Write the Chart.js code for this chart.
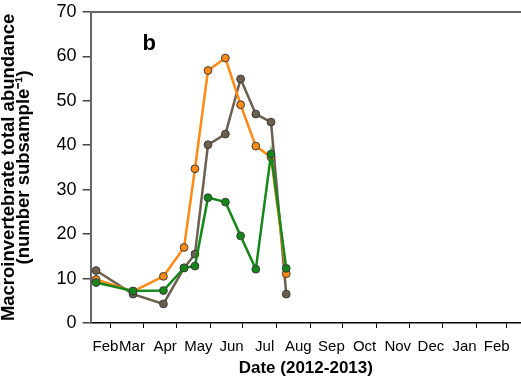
<!DOCTYPE html>
<html><head><meta charset="utf-8">
<script src="https://cdn.jsdelivr.net/npm/chart.js@4.4.0/dist/chart.umd.min.js"></script>
<style>html,body{margin:0;padding:0;background:#fff;overflow:hidden}</style>
</head><body><canvas id="c" width="521" height="387" style="display:block;width:521px;height:387px"></canvas>
<script>
// ---- data ----
const sampleDates = ['2012-02-17','2012-03-22','2012-04-19','2012-05-08','2012-05-18','2012-05-30','2012-06-15','2012-06-29','2012-07-13','2012-07-27','2012-08-10'];
const brownValues  = [11.8, 6.5, 4.3, 12.4, 15.5, 40.1, 42.5, 54.9, 47.0, 45.2, 6.5];
const orangeValues = [9.8, 7.1, 10.5, 17.0, 34.7, 56.8, 59.6, 49.1, 39.8, 37.3, 11.1];
const greenValues  = [9.1, 7.2, 7.3, 12.4, 12.8, 28.2, 27.2, 19.6, 12.1, 38.0, 12.3];
const monthLabels = ['Feb','Mar','Apr','May','Jun','Jul','Aug','Sep','Oct','Nov','Dec','Jan','Feb'];
const monthStarts = ['2012-03-01','2012-04-01','2012-05-01','2012-06-01','2012-07-01','2012-08-01','2012-09-01','2012-10-01','2012-11-01','2012-12-01','2013-01-01','2013-02-01','2013-03-01'];
const axisStart = '2012-02-12';
const axisEnd = '2013-03-14';
const yTicks = [0,10,20,30,40,50,60,70];
const yTitle = ['Macroinvertebrate total abundance', '(number subsample\u207B\u00B9)'];
const xTitle = 'Date (2012-2013)';
const panelLabel = 'b';

// ---- helpers ----
const day = s => { const [y,m,d] = s.split('-').map(Number); return Date.UTC(y, m-1, d) / 86400000; };
const xMin = day(axisStart), xMax = day(axisEnd);
const bounds = [axisStart].concat(monthStarts).map(day);
const mids = monthLabels.map((_, i) => (bounds[i] + bounds[i+1]) / 2);
const tickMarkSet = new Set(monthStarts.map(day));
const labelMap = new Map(mids.map((v, i) => [v, monthLabels[i]]));
const pts = vals => sampleDates.map((d, i) => ({x: day(d), y: vals[i]}));

const FONT = "'Liberation Sans', Arial, Helvetica, sans-serif";

const panelPlugin = {
  id: 'panelLabel',
  afterDraw(chart) {
    const {ctx, chartArea} = chart;
    ctx.save();
    ctx.font = "bold 22px " + FONT;
    ctx.fillStyle = '#000';
    ctx.textBaseline = 'alphabetic';
    ctx.fillText(panelLabel, chartArea.left + 52, chartArea.top + 38);
    ctx.restore();
  }
};

function ds(label, vals, color, order) {
  return {
    label, data: pts(vals), order,
    borderColor: color, backgroundColor: color,
    pointBackgroundColor: color, pointBorderColor: '#3a3a3a',
    pointBorderWidth: 1, pointRadius: 3.9, borderWidth: 2.5,
    tension: 0, fill: false
  };
}

new Chart(document.getElementById('c'), {
  type: 'line',
  data: {
    datasets: [
      ds('green', greenValues, '#15881a', 0),
      ds('orange', orangeValues, '#ff8a14', 1),
      ds('brown', brownValues, '#6b604e', 2)
    ]
  },
  options: {
    responsive: false, animation: false,
    devicePixelRatio: 1,
    layout: {autoPadding: false, padding: {left: 0, right: 0, top: 1, bottom: 10}},
    plugins: {legend: {display: false}, tooltip: {enabled: false}},
    scales: {
      x: {
        type: 'linear', position: 'bottom', min: xMin, max: xMax,
        afterBuildTicks: s => { s.ticks = [...tickMarkSet, ...mids].sort((a,b)=>a-b).map(v => ({value: v})); },
        ticks: {
          autoSkip: false, maxRotation: 0, minRotation: 0, padding: 10, labelOffset: 5,
          font: {family: FONT, size: 15}, color: '#000',
          callback: v => labelMap.get(v) || ''
        },
        grid: {
          drawOnChartArea: false, drawTicks: true, tickLength: 5, lineWidth: 1,
          tickColor: c => (c.tick && tickMarkSet.has(c.tick.value)) ? '#000' : 'rgba(0,0,0,0)'
        },
        border: {color: '#000', width: 1.5},
        title: {display: true, text: xTitle, font: {family: FONT, size: 17, weight: 'bold', lineHeight: 1.0}, color: '#000', padding: {top: -6, bottom: 0}}
      },
      xTop: {
        type: 'linear', position: 'top', min: xMin, max: xMax,
        ticks: {display: false}, grid: {display: false, drawTicks: false},
        border: {color: '#666', width: 2}
      },
      y: {
        type: 'linear', position: 'left', min: 0, max: 70,
        afterBuildTicks: s => { s.ticks = yTicks.map(v => ({value: v})); },
        ticks: {font: {family: FONT, size: 18, lineHeight: 0.65}, color: '#000', padding: 6},
        grid: {drawOnChartArea: false, drawTicks: true, tickLength: 8, tickColor: '#444', lineWidth: 1.5},
        border: {color: '#666', width: 2},
        title: {display: true, text: yTitle, font: {family: FONT, size: 18.5, weight: 'bold', lineHeight: 0.8}, color: '#000', padding: {top: 2, bottom: 19}}
      }
    }
  },
  plugins: [panelPlugin]
});
</script></body></html>
